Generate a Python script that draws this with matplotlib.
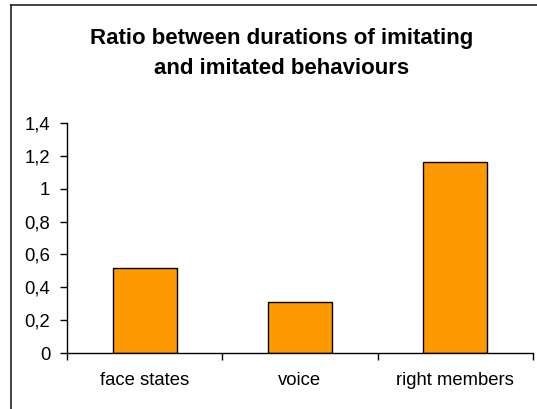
import matplotlib.pyplot as plt
from matplotlib.lines import Line2D
from matplotlib.ticker import FuncFormatter

categories = ['face states', 'voice', 'right members']
ratios = [0.52, 0.31, 1.16]
y_ticks = [0, 0.2, 0.4, 0.6, 0.8, 1.0, 1.2, 1.4]

plt.rcParams['font.family'] = ['Liberation Sans', 'DejaVu Sans']

fig = plt.figure(figsize=(5.37, 4.09), dpi=100)
ax = fig.add_axes([0.1248, 0.1369, 0.8677, 0.5624])

x = range(len(categories))
ax.bar(x, ratios, width=0.41, color='#ff9900', edgecolor='black', linewidth=1)

ax.set_xlim(-0.5, len(categories) - 0.5)
ax.set_ylim(0, 1.4)
ax.set_yticks(y_ticks)
ax.yaxis.set_major_formatter(FuncFormatter(lambda v, p: f'{v:g}'.replace('.', ',')))

# boundary ticks between categories, labels sit on minor ticks in the middle
ax.set_xticks([i - 0.5 for i in range(len(categories) + 1)])
ax.set_xticklabels([])
ax.set_xticks(list(x), minor=True)
ax.set_xticklabels(categories, minor=True)
ax.tick_params(axis='x', which='minor', length=0, pad=14, labelsize=13.3)
ax.tick_params(axis='x', which='major', length=5, width=1, direction='out')
ax.tick_params(axis='y', length=5, width=1, pad=7, labelsize=13.3)

for side in ['top', 'right']:
    ax.spines[side].set_visible(False)
for side in ['left', 'bottom']:
    ax.spines[side].set_linewidth(1)
ax.spines['bottom'].set_bounds(-0.5, len(categories) - 0.5)

fig.text(0.524, 0.905, 'Ratio between durations of imitating', ha='center', va='center',
         fontsize=16, fontweight='bold')
fig.text(0.524, 0.833, 'and imitated behaviours', ha='center', va='center',
         fontsize=16, fontweight='bold')

# chart-area frame, cut off at the right and bottom edges
fig.add_artist(Line2D([11 / 537, 1], [1 - 5 / 409] * 2, transform=fig.transFigure,
                      color='#222222', linewidth=1.2))
fig.add_artist(Line2D([11 / 537] * 2, [0, 1 - 5 / 409], transform=fig.transFigure,
                      color='#222222', linewidth=1.2))

fig.savefig('out.png', dpi=100)
